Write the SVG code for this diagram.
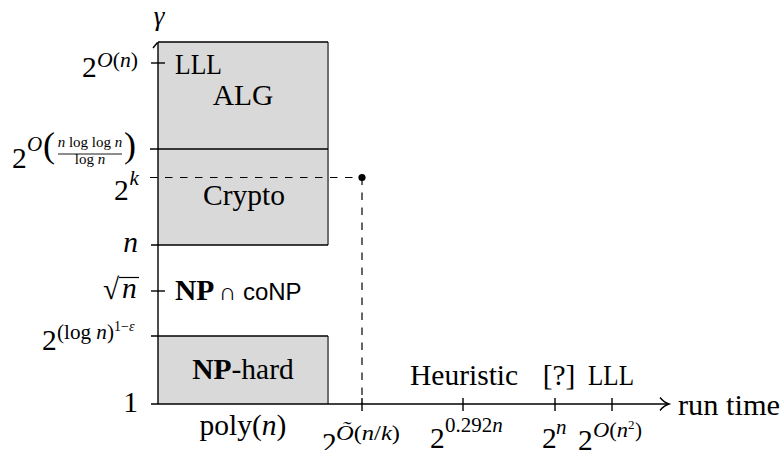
<svg xmlns="http://www.w3.org/2000/svg" width="782" height="450" viewBox="0 0 782 450">
<style>
text{font-family:"Liberation Serif","Times New Roman",serif;fill:#000}
.m{font-size:29.5px}
.s{font-size:21px}
.t{font-size:15px}
.i{font-style:italic}
.b{font-weight:bold}
.sans{font-family:"Liberation Sans",Arial,sans-serif;font-size:24px}
.ln{stroke:#000;stroke-width:1.4;fill:none}
.dash{stroke:#000;stroke-width:1.2;stroke-dasharray:7.5 7.5;fill:none}
.box{fill:#d9d9d9;stroke:none}
.edge{stroke:#6e6e6e;stroke-width:2;fill:none}
</style>
<rect width="782" height="450" fill="#fff"/>

<g id="box-alg-crypto">
<rect class="box" x="158" y="42" width="170" height="203"/>
<line class="edge" x1="328" y1="42" x2="328" y2="245"/>
<line class="ln" x1="158" y1="42" x2="328" y2="42"/>
<line class="ln" x1="150" y1="149" x2="328" y2="149"/>
<line class="ln" x1="151" y1="245" x2="328" y2="245"/>
<text class="m" x="175" y="74" textLength="47" lengthAdjust="spacingAndGlyphs">LLL</text>
<text class="m" x="243" y="105" text-anchor="middle">ALG</text>
<text class="m" x="244" y="205" text-anchor="middle">Crypto</text>
</g>

<g id="box-nphard">
<rect class="box" x="158" y="336" width="170" height="68"/>
<line class="edge" x1="328" y1="336" x2="328" y2="404"/>
<line class="ln" x1="151" y1="336" x2="328" y2="336"/>
<text class="m" x="243" y="379" text-anchor="middle"><tspan class="b">NP</tspan>-hard</text>
</g>

<g id="connectors">
<line class="ln" x1="158" y1="404" x2="158" y2="42" stroke-width="1.6"/>
<path class="ln" d="M153,48 Q155.5,45 157.5,42.5"/>
<line class="ln" x1="151" y1="404" x2="667" y2="404" stroke-width="1.6"/>
<path class="ln" d="M660,397.5 Q664,402.5 669,404 Q664,405.5 660,410.5"/>
<line class="ln" x1="151" y1="63" x2="165" y2="63"/>
<line class="ln" x1="151" y1="291" x2="165" y2="291"/>
<line class="ln" x1="362" y1="398" x2="362" y2="411"/>
<line class="ln" x1="463" y1="398" x2="463" y2="411"/>
<line class="ln" x1="555" y1="398" x2="555" y2="411"/>
<line class="ln" x1="612" y1="398" x2="612" y2="411"/>
<line class="dash" x1="150" y1="177.5" x2="362" y2="177.5"/>
<line class="dash" x1="362" y1="177.5" x2="362" y2="404"/>
<circle cx="362" cy="177.5" r="3.6" fill="#000"/>
</g>

<g id="y-labels">
<text class="i" x="159" y="25" text-anchor="middle" style="font-size:27px">γ</text>
<text class="m" x="82" y="77">2</text>
<text class="s" x="97" y="67" textLength="41" lengthAdjust="spacingAndGlyphs"><tspan class="i">O</tspan>(<tspan class="i">n</tspan>)</text>

<text class="m" x="12" y="168">2</text>
<text class="s i" x="27" y="151">O</text>
<text x="43" y="157" style="font-size:36px">(</text>
<text class="t" x="90" y="147" text-anchor="middle"><tspan class="i">n</tspan> log log <tspan class="i">n</tspan></text>
<line x1="58" y1="154" x2="122" y2="154" stroke="#000" stroke-width="0.9"/>
<text class="t" x="90" y="164" text-anchor="middle">log <tspan class="i">n</tspan></text>
<text x="124" y="157" style="font-size:36px">)</text>

<text class="m" x="114" y="200">2</text>
<text class="s i" x="129.5" y="185">k</text>

<text class="m i" x="138" y="252" text-anchor="end">n</text>

<text class="m" x="103" y="299">√</text>
<line x1="119" y1="277.5" x2="139" y2="277.5" stroke="#000" stroke-width="1.2"/>
<text class="m i" x="122" y="298">n</text>

<text class="m" x="42" y="350">2</text>
<text x="57" y="339" style="font-size:21px" textLength="57" lengthAdjust="spacingAndGlyphs">(log <tspan class="i">n</tspan>)</text>
<text x="114" y="331" style="font-size:14px">1−<tspan class="i">ε</tspan></text>

<text class="m" x="138" y="412" text-anchor="end">1</text>
</g>

<g id="region-labels">
<text class="m" x="175" y="300"><tspan class="b">NP</tspan></text>
<text class="sans" x="219" y="300">∩ coNP</text>
<text class="m" x="410" y="385">Heuristic</text>
<text class="m" x="559" y="385" text-anchor="middle">[?]</text>
<text class="m" x="588" y="385" textLength="46" lengthAdjust="spacingAndGlyphs">LLL</text>
</g>

<g id="x-labels">
<text class="m" x="243" y="435" text-anchor="middle">poly(<tspan class="i">n</tspan>)</text>
<text class="m" x="322" y="453">2</text>
<text class="s" x="336" y="440" textLength="64" lengthAdjust="spacingAndGlyphs"><tspan class="i">Õ</tspan>(<tspan class="i">n</tspan>/<tspan class="i">k</tspan>)</text>
<text class="m" x="430" y="448">2</text>
<text class="s" x="445" y="432">0.292<tspan class="i">n</tspan></text>
<text class="m" x="542" y="448">2</text>
<text class="s i" x="556" y="434">n</text>
<text class="m" x="578" y="450">2</text>
<text class="s" x="593" y="437" textLength="35" lengthAdjust="spacingAndGlyphs"><tspan class="i">O</tspan>(<tspan class="i">n</tspan></text>
<text x="628" y="429" style="font-size:13px">2</text>
<text class="s" x="635" y="437">)</text>
<text class="m" x="678" y="415" textLength="102" lengthAdjust="spacingAndGlyphs">run time</text>
</g>
</svg>
